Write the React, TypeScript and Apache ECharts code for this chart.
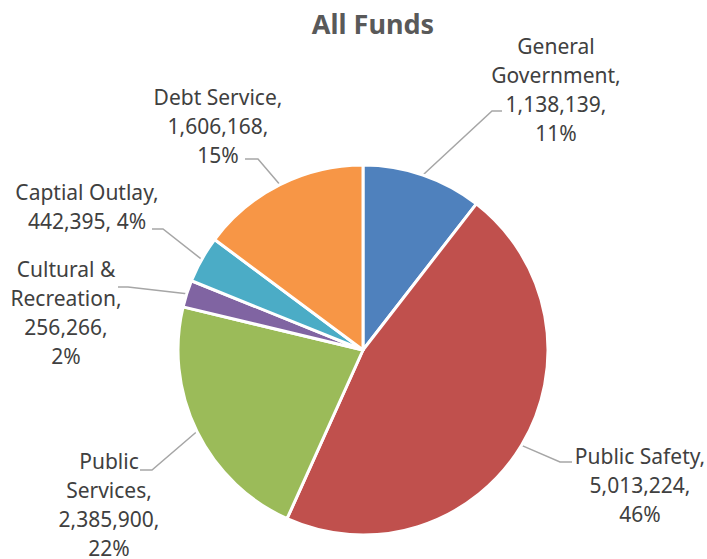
import React, { useEffect, useRef } from "react";
import * as echarts from "echarts";

const categories = [
  "General\nGovernment",
  "Public Safety",
  "Public\nServices",
  "Cultural &\nRecreation",
  "Captial Outlay",
  "Debt Service",
];
const values = [1138139, 5013224, 2385900, 256266, 442395, 1606168];
// separator between value and percentage in the label
const valuePctSep = ",\n", captialSep = ", ";
const colors = ["#4F81BD", "#C0504D", "#9BBB59", "#8064A2", "#4BACC6", "#F79646"];

// label layout: [centerX, centerY, elbowX, elbowY, endX]
const labelPos: number[][] = [
  [556, 89, 492, 111, 502],
  [640, 485, 560, 462, 572],
  [109, 504, 152, 470, 140],
  [66, 312, 128, 287, 118],
  [87, 206, 163, 229, 152],
  [218, 126, 258, 159, 245],
];

export default function App() {
  const ref = useRef<HTMLDivElement>(null);
  useEffect(() => {
    if (!ref.current) return;
    const chart = echarts.init(ref.current, null, { renderer: "svg" });
    chart.setOption({
      animation: false,
      backgroundColor: "#ffffff",
      title: {
        text: "All Funds",
        left: 368,
        top: 5,
        textAlign: "center",
        textStyle: {
          fontFamily: "Noto Sans",
          fontSize: 27,
          fontWeight: "bold",
          color: "#595959",
        },
      },
      series: [
        {
          type: "pie",
          center: [363, 350],
          radius: 185,
          startAngle: 90,
          clockwise: true,
          color: colors,
          itemStyle: { borderColor: "#ffffff", borderWidth: 3 },
          label: {
            show: true,
            fontFamily: "Noto Sans",
            fontSize: 21,
            lineHeight: 29,
            color: "#404040",
            align: "center",
            formatter: (p: any) => {
              const sep = p.dataIndex === 4 ? captialSep : valuePctSep;
              return (
                p.name + ",\n" + Number(p.value).toLocaleString("en-US") + sep + Math.round(p.percent) + "%"
              );
            },
          },
          labelLine: {
            show: true,
            length: 10,
            length2: 10,
            lineStyle: { color: "#A6A6A6", width: 1.5 },
          },
          labelLayout: (params: any) => {
            const pos = labelPos[params.dataIndex];
            const start = params.labelLinePoints ? params.labelLinePoints[0] : [pos[2], pos[3]];
            return {
              x: pos[0],
              y: pos[1],
              align: "center",
              verticalAlign: "middle",
              labelLinePoints: [start, [pos[2], pos[3]], [pos[4], pos[3]]],
            };
          },
          data: categories.map((c, i) => ({ name: c, value: values[i] })),
        },
      ],
    });
    return () => chart.dispose();
  }, []);
  return (
    <div
      ref={ref}
      style={{ position: "fixed", left: 0, top: 0, width: 707, height: 559 }}
    />
  );
}
